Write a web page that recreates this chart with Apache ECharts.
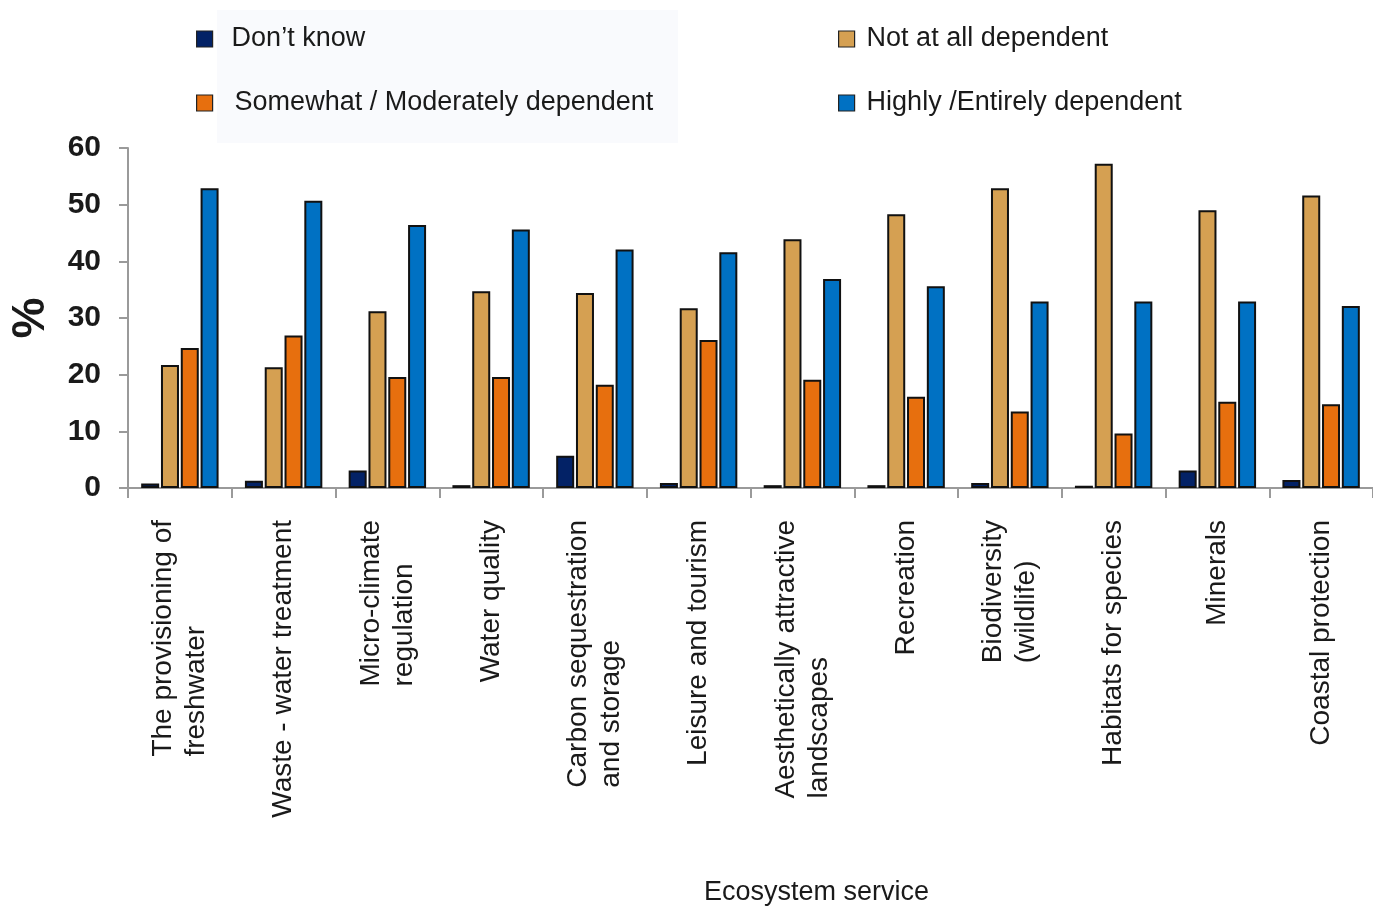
<!DOCTYPE html>
<html>
<head>
<meta charset="utf-8">
<script src="https://cdn.jsdelivr.net/npm/echarts@6/dist/echarts.min.js"></script>
<style>
html,body{margin:0;padding:0;background:#fff;}
#chart{width:1373px;height:907px;}
</style>
</head>
<body>
<div id="chart"></div>
<script>
const categories = [
  ['The provisioning of', 'freshwater'],
  ['Waste - water treatment'],
  ['Micro-climate', 'regulation'],
  ['Water quality'],
  ['Carbon sequestration', 'and storage'],
  ['Leisure and tourism'],
  ['Aesthetically attractive', 'landscapes'],
  ['Recreation'],
  ['Biodiversity', '(wildlife)'],
  ['Habitats for species'],
  ['Minerals'],
  ['Coastal protection']
];
const seriesNames = ["Don\u2019t know", 'Not at all dependent', 'Somewhat / Moderately dependent', 'Highly /Entirely dependent'];
const dontKnow    = [0.8, 1.3, 3.1, 0.5, 5.7, 0.9, 0.5, 0.5, 0.9, 0.4, 3.1, 1.4];
const notAtAll    = [21.7, 21.3, 31.2, 34.7, 34.4, 31.7, 43.9, 48.3, 52.9, 57.2, 49.0, 51.6];
const somewhat    = [24.7, 26.9, 19.6, 19.6, 18.2, 26.1, 19.1, 16.1, 13.5, 9.6, 15.2, 14.8];
const highly      = [52.9, 50.7, 46.4, 45.6, 42.1, 41.6, 36.9, 35.6, 32.9, 32.9, 32.9, 32.1];
const yTicks = [0, 10, 20, 30, 40, 50, 60];
const xTitle = 'Ecosystem service';
const yTitle = '%';

const colors = ['#032266', '#D5A052', '#E76F0E', '#0071C3'];
const values = [dontKnow, notAtAll, somewhat, highly];
const catKeys = categories.map(c => c.join('\n'));

const chart = echarts.init(document.getElementById('chart'), null, {renderer: 'canvas'});
const legendPos = [
  {left: 191, top: 19, pad: 14},
  {left: 833, top: 19, pad: 7},
  {left: 191, top: 83, pad: 17},
  {left: 833, top: 83, pad: 7}
];
const legends = legendPos.map((p, si) => ({
  data: [seriesNames[si]],
  left: p.left,
  top: p.top,
  icon: 'rect',
  itemWidth: 16,
  itemHeight: 16,
  selectedMode: false,
  itemStyle: {borderColor: '#222', borderWidth: 1.2},
  textStyle: {fontFamily: 'Liberation Sans, Arial, sans-serif', fontSize: 27, color: '#1a1a1a', lineHeight: 30, padding: [0, 0, 0, p.pad]}
}));

const option = {
  backgroundColor: '#ffffff',
  animation: false,
  graphic: [{
    type: 'rect', left: 217, top: 10, z: -10,
    shape: {width: 461, height: 133},
    style: {fill: '#f9fafd'}
  }],
  title: {
    text: xTitle,
    left: 699,
    top: 874,
    textStyle: {fontFamily: 'Liberation Sans, Arial, sans-serif', fontSize: 27, fontWeight: 'normal', color: '#1a1a1a'}
  },
  legend: legends,
  grid: {left: 127, top: 148, width: 1248, height: 340, containLabel: false},
  xAxis: {
    type: 'category',
    data: catKeys,
    axisLine: {lineStyle: {color: '#9a9a9a', width: 2}},
    axisTick: {show: true, length: 10, inside: false, alignWithLabel: false, lineStyle: {color: '#9a9a9a', width: 2}},
    axisLabel: {
      interval: 0,
      rotate: 90,
      margin: 32,
      color: '#1a1a1a',
      fontFamily: 'Liberation Sans, Arial, sans-serif',
      fontSize: 28,
      lineHeight: 33,
      formatter: v => v.split('\n').map(s => '{a|' + s + '}').join('\n'),
      rich: {a: {align: 'left', fontFamily: 'Liberation Sans, Arial, sans-serif', fontSize: 28, lineHeight: 33, color: '#1a1a1a'}}
    },
    splitLine: {show: false}
  },
  yAxis: {
    type: 'value',
    min: yTicks[0],
    max: yTicks[yTicks.length - 1],
    interval: 10,
    name: yTitle,
    nameLocation: 'middle',
    nameRotate: 90,
    nameGap: 74,
    nameTextStyle: {fontFamily: 'Liberation Sans, Arial, sans-serif', fontSize: 46, fontWeight: 'bold', color: '#1a1a1a'},
    axisLine: {show: true, lineStyle: {color: '#9a9a9a', width: 2}},
    axisTick: {show: true, length: 9, lineStyle: {color: '#9a9a9a', width: 2}},
    axisLabel: {margin: 27, color: '#1a1a1a', fontFamily: 'Liberation Sans, Arial, sans-serif', fontSize: 30, fontWeight: 'bold'},
    splitLine: {show: false}
  },
  series: values.map((vals, i) => ({
    name: seriesNames[i],
    type: 'bar',
    data: vals,
    barWidth: 18,
    barGap: '10%',
    itemStyle: {color: colors[i], borderColor: '#111', borderWidth: 2}
  }))
};
chart.setOption(option);
</script>
</body>
</html>
